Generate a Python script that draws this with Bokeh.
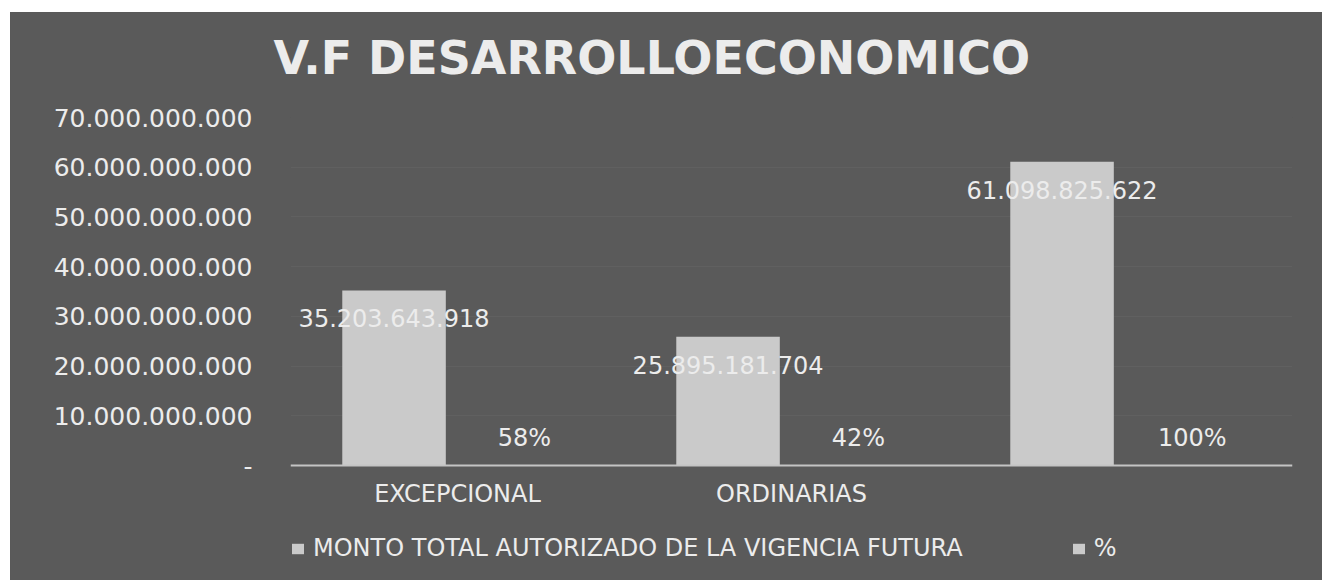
from bokeh.plotting import figure
from bokeh.models import FactorRange, Range1d, FixedTicker, Legend, LegendItem, ColumnDataSource, Title
from bokeh.transform import dodge
from bokeh.core.properties import value
from bokeh.embed import file_html
from bokeh.resources import INLINE

# ---- data ----
title_text = "V.F DESARROLLOECONOMICO"
categories = ["EXCEPCIONAL", "ORDINARIAS", " "]
monto = [35203643918, 25895181704, 61098825622]
monto_labels = ["35.203.643.918", "25.895.181.704", "61.098.825.622"]
pct = [0.58, 0.42, 1.00]
pct_labels = ["58%", "42%", "100%"]
series_names = ["MONTO TOTAL AUTORIZADO DE LA VIGENCIA FUTURA", "%"]
y_ticks = [0, 10000000000, 20000000000, 30000000000, 40000000000,
           50000000000, 60000000000, 70000000000]
y_tick_labels = ["-", "10.000.000.000", "20.000.000.000", "30.000.000.000",
                 "40.000.000.000", "50.000.000.000", "60.000.000.000", "70.000.000.000"]

# ---- styles / layout ----
BG = "#5a5a5a"
BAR = "#cacaca"
TXT = "#ececec"
FONT = "DejaVu Sans"
FRAME_H_ABOVE = 348   # px between value 0 and the top of the value axis
FRAME_H_BELOW = 115   # px kept below value 0 for category labels and legend
y_start = -y_ticks[-1] * FRAME_H_BELOW / FRAME_H_ABOVE

src = ColumnDataSource(dict(cat=categories, monto=monto, monto_labels=monto_labels,
                            pct=pct, pct_labels=pct_labels))

p = figure(x_range=FactorRange(*categories), y_range=Range1d(y_start, y_ticks[-1]),
           width=1312, height=568, output_backend="svg", toolbar_location=None,
           min_border_left=280, min_border_right=30, min_border_top=105, min_border_bottom=0,
           background_fill_color=BG, border_fill_color=BG)
p.margin = (12, 0, 0, 10)
p.styles = {"background-color": BG}
p.outline_line_color = None

r1 = p.vbar(x=dodge("cat", -0.19, range=p.x_range), top="monto", bottom=0, width=0.31,
            source=src, fill_color=BAR, line_color=None)
r2 = p.vbar(x=dodge("cat", 0.20, range=p.x_range), top="pct", bottom=0, width=0.31,
            source=src, fill_color=BAR, line_color=None)

p.text(x=dodge("cat", -0.19, range=p.x_range), y="monto", text="monto_labels", source=src,
       text_align="center", text_baseline="middle", y_offset=28,
       text_font=value(FONT), text_font_size="24px", text_color=TXT)
p.text(x=dodge("cat", 0.20, range=p.x_range), y="pct", text="pct_labels", source=src,
       text_align="center", text_baseline="middle", y_offset=-28,
       text_font=value(FONT), text_font_size="24px", text_color=TXT)

# spacer between the plot area and the title (keeps the title higher up)
p.add_layout(Title(text=" ", text_font_size="16px", standoff=9, text_color=BG), "above")

# title
p.title.text = title_text
p.title.text_font = FONT
p.title.text_font_style = "bold"
p.title.text_font_size = "46px"
p.title.text_color = TXT
p.title.align = "left"
p.title.offset = -17
p.title.standoff = 10

# axes
p.yaxis.ticker = FixedTicker(ticks=y_ticks)
p.yaxis.major_label_overrides = {t: l for t, l in zip(y_ticks, y_tick_labels)}
p.yaxis.axis_line_color = None
p.yaxis.major_tick_line_color = None
p.yaxis.major_tick_out = 0
p.yaxis.minor_tick_line_color = None
p.yaxis.major_label_standoff = 38
p.yaxis.major_label_text_font = FONT
p.yaxis.major_label_text_font_size = "25px"
p.yaxis.major_label_text_color = TXT

p.xaxis.fixed_location = 0
p.xaxis.axis_line_color = "#c4c4c4"
p.xaxis.axis_line_width = 2
p.xaxis.major_tick_line_color = None
p.xaxis.major_tick_out = 0
p.xaxis.minor_tick_line_color = None
p.xaxis.major_label_standoff = 14
p.xaxis.major_label_text_font = FONT
p.xaxis.major_label_text_font_size = "24px"
p.xaxis.major_label_text_color = TXT

p.xgrid.grid_line_color = None
p.ygrid.grid_line_color = "#686868"
p.ygrid.grid_line_alpha = 0.45

legend = Legend(items=[LegendItem(label=series_names[0], renderers=[r1]),
                       LegendItem(label=series_names[1], renderers=[r2])],
                orientation="horizontal", location=(0, 18),
                background_fill_alpha=0, border_line_color=None,
                label_text_color=TXT, label_text_font=FONT, label_text_font_size="24px",
                glyph_width=15, glyph_height=13, spacing=108, label_standoff=8,
                margin=0, padding=0)
p.add_layout(legend, "center")

open("out.html", "w").write(file_html(p, INLINE))
